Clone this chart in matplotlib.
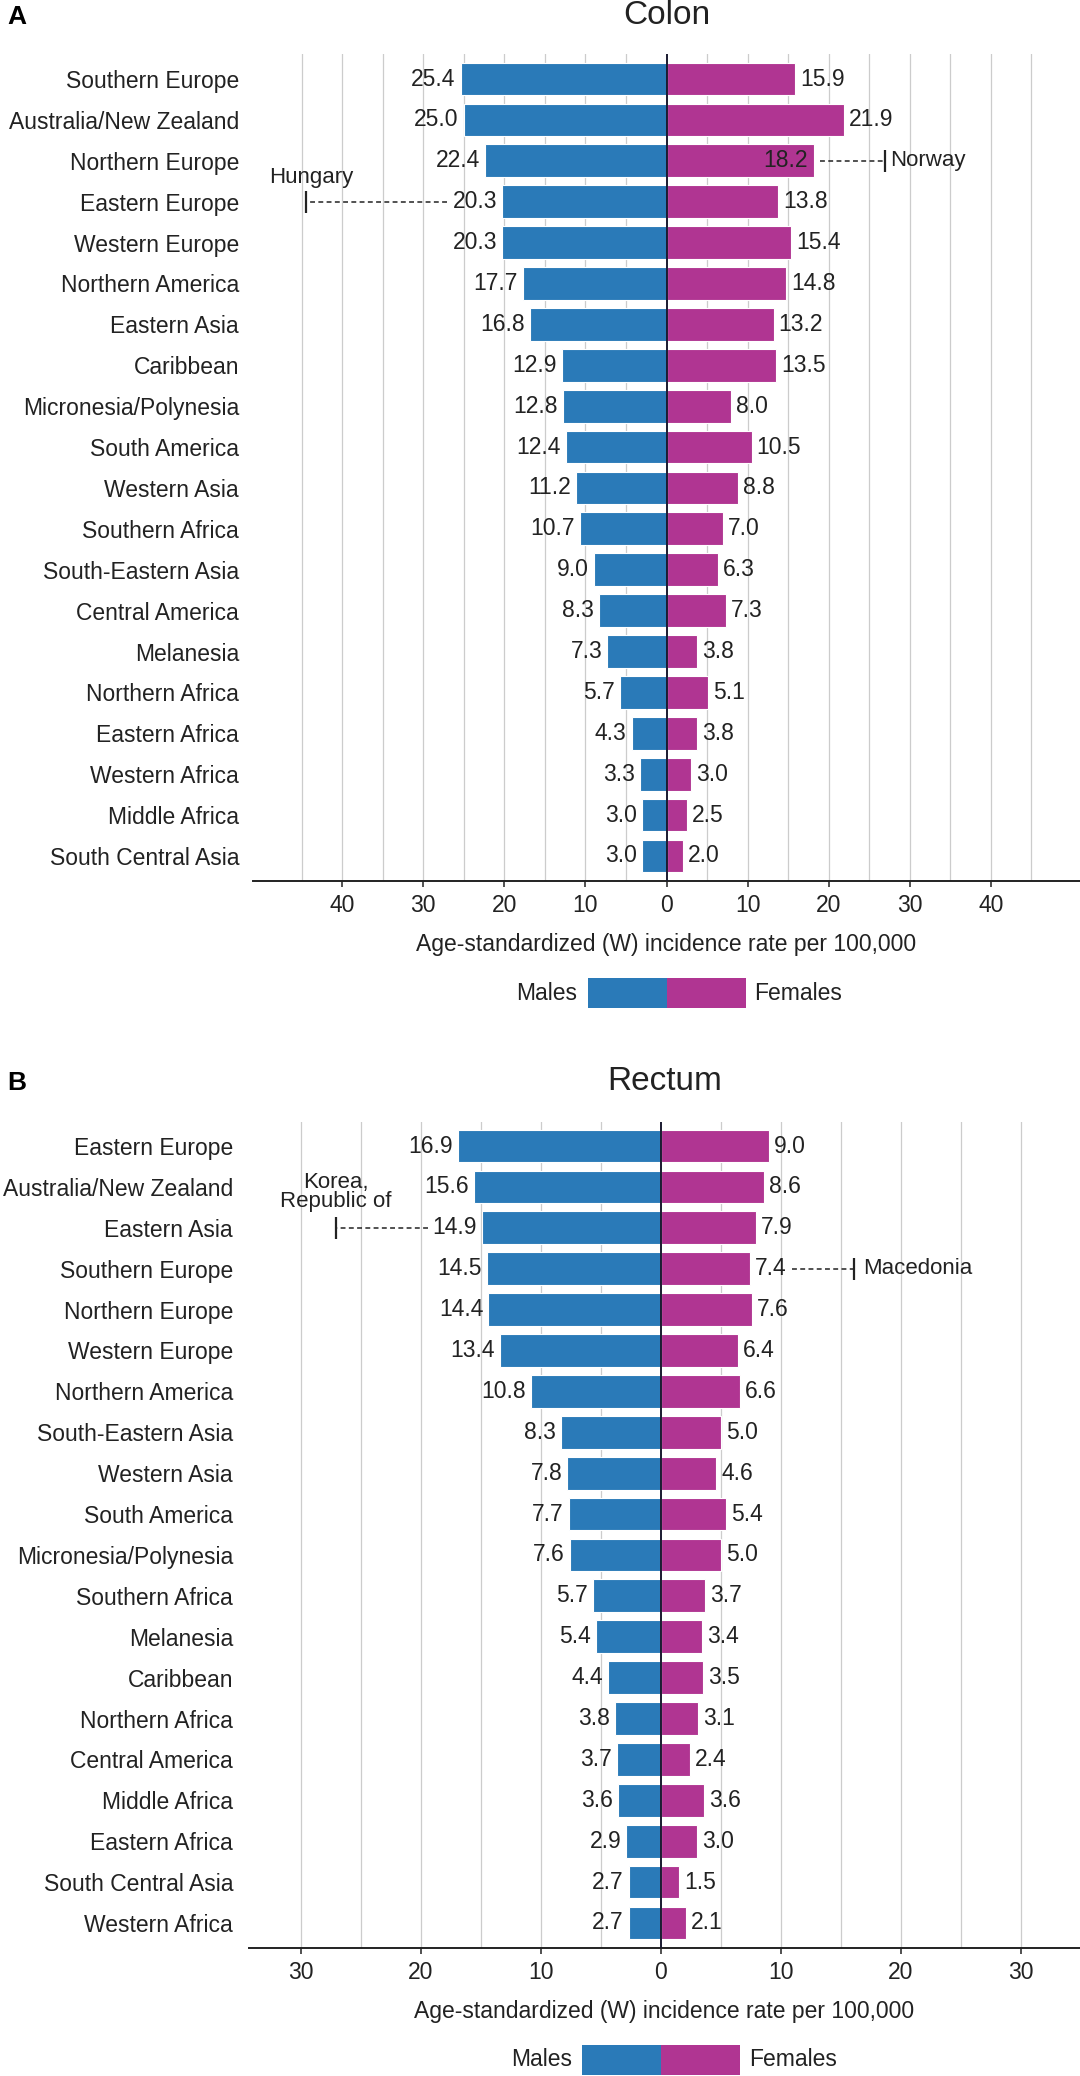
import matplotlib
matplotlib.use("Agg")
import matplotlib.pyplot as plt
from matplotlib.patches import Rectangle
import numpy as np

plt.rcParams['font.family'] = ['Liberation Sans', 'DejaVu Sans']

# ---------------- data ----------------
colon_regions = ["Southern Europe", "Australia/New Zealand", "Northern Europe", "Eastern Europe",
                 "Western Europe", "Northern America", "Eastern Asia", "Caribbean",
                 "Micronesia/Polynesia", "South America", "Western Asia", "Southern Africa",
                 "South-Eastern Asia", "Central America", "Melanesia", "Northern Africa",
                 "Eastern Africa", "Western Africa", "Middle Africa", "South Central Asia"]
colon_males = [25.4, 25.0, 22.4, 20.3, 20.3, 17.7, 16.8, 12.9, 12.8, 12.4,
               11.2, 10.7, 9.0, 8.3, 7.3, 5.7, 4.3, 3.3, 3.0, 3.0]
colon_females = [15.9, 21.9, 18.2, 13.8, 15.4, 14.8, 13.2, 13.5, 8.0, 10.5,
                 8.8, 7.0, 6.3, 7.3, 3.8, 5.1, 3.8, 3.0, 2.5, 2.0]

rectum_regions = ["Eastern Europe", "Australia/New Zealand", "Eastern Asia", "Southern Europe",
                  "Northern Europe", "Western Europe", "Northern America", "South-Eastern Asia",
                  "Western Asia", "South America", "Micronesia/Polynesia", "Southern Africa",
                  "Melanesia", "Caribbean", "Northern Africa", "Central America",
                  "Middle Africa", "Eastern Africa", "South Central Asia", "Western Africa"]
rectum_males = [16.9, 15.6, 14.9, 14.5, 14.4, 13.4, 10.8, 8.3, 7.8, 7.7,
                7.6, 5.7, 5.4, 4.4, 3.8, 3.7, 3.6, 2.9, 2.7, 2.7]
rectum_females = [9.0, 8.6, 7.9, 7.4, 7.6, 6.4, 6.6, 5.0, 4.6, 5.4,
                  5.0, 3.7, 3.4, 3.5, 3.1, 2.4, 3.6, 3.0, 1.5, 2.1]

colon_ticks = [-40, -30, -20, -10, 0, 10, 20, 30, 40]
rectum_ticks = [-30, -20, -10, 0, 10, 20, 30]

# highest country rate within a region: (region, sex, country, value)
colon_highest = [("Eastern Europe", "males", "Hungary", 44.5),
                 ("Northern Europe", "females", "Norway", 26.9)]
rectum_highest = [("Eastern Asia", "males", "Korea,\nRepublic of", 27.1),
                  ("Southern Europe", "females", "Macedonia", 16.1)]

xlabel_text = "Age-standardized (W) incidence rate per 100,000"

# ---------------- style ----------------
BLUE = "#2a7ab8"
MAGENTA = "#b03592"
TEXT = "#222222"
GRID = "#cccccc"
FS = 16.5

W, H = 1080, 2076
fig = plt.figure(figsize=(W / 100, H / 100), dpi=100)
fig.patch.set_facecolor("white")


def px_axes(l, t, r, b):
    return fig.add_axes([l / W, 1 - b / H, (r - l) / W, (b - t) / H])


def draw_panel(ax, regions, males, females, xlim, grid_max, ticks, ylabel_pad, inside_fem):
    n = len(regions)
    y = np.arange(n)
    ax.set_xlim(*xlim)
    ax.set_ylim(n - 1 + 0.6, -0.6)
    ax.barh(y, -np.array(males), height=0.8, color=BLUE, edgecolor="white",
            linewidth=0.8, zorder=3)
    ax.barh(y, np.array(females), height=0.8, color=MAGENTA, edgecolor="white",
            linewidth=0.8, zorder=3)
    for g in np.arange(-grid_max, grid_max + 1, 5):
        if g != 0:
            ax.axvline(g, color=GRID, lw=0.9, zorder=1)
    ax.axvline(0, color="#1a1a30", lw=1.4, zorder=4)

    for s in ["top", "left", "right"]:
        ax.spines[s].set_visible(False)
    ax.spines["bottom"].set_linewidth(1.4)
    ax.spines["bottom"].set_color("#222222")

    ax.set_xticks(ticks)
    ax.set_xticklabels([str(abs(t)) for t in ticks], fontsize=FS, color=TEXT)
    ax.tick_params(axis="x", length=4.5, width=1.1, pad=5, colors="#222222")
    ax.set_yticks(y)
    ax.set_yticklabels(regions, fontsize=FS, color=TEXT)
    ax.tick_params(axis="y", length=0, pad=ylabel_pad)

    ax.set_xlabel(xlabel_text, fontsize=FS, color=TEXT)
    ax.xaxis.set_label_coords(0.5, -0.078)
    ax.xaxis.label.set_va("center")

    labels_m, labels_f = [], []
    for i in range(n):
        tm = ax.annotate(f"{males[i]:.1f}", xy=(-males[i], i), xytext=(-5, 0),
                         textcoords="offset pixels", ha="right", va="center",
                         fontsize=FS, color=TEXT, zorder=6)
        if regions[i] in inside_fem:
            tf = ax.annotate(f"{females[i]:.1f}", xy=(females[i], i), xytext=(-6, 0),
                             textcoords="offset pixels", ha="right", va="center",
                             fontsize=FS, color=TEXT, zorder=6)
        else:
            tf = ax.annotate(f"{females[i]:.1f}", xy=(females[i], i), xytext=(5, 0),
                             textcoords="offset pixels", ha="left", va="center",
                             fontsize=FS, color=TEXT, zorder=6)
        labels_m.append(tm)
        labels_f.append(tf)
    return labels_m, labels_f


def add_highest(ax, regions, males, females, labels_m, labels_f, highest, placement):
    renderer = fig.canvas.get_renderer()
    for region, sex, country, value in highest:
        i = regions.index(region)
        if sex == "males":
            txt, bar_end, tick_x = labels_m[i], -males[i], -value
        else:
            txt, bar_end, tick_x = labels_f[i], females[i], value
        bb = txt.get_window_extent(renderer)
        bar_px = ax.transData.transform((bar_end, i))[0]
        if sex == "females":
            start_px = max(bb.x1, bar_px) + 6
        else:
            start_px = min(bb.x0, bar_px) - 5
        start_x = ax.transData.inverted().transform((start_px, 0))[0]
        ax.plot([start_x, tick_x], [i, i], ls=(0, (3.2, 2.2)), color=TEXT, lw=1.1,
                zorder=5, clip_on=False)
        ax.plot([tick_x], [i], marker="|", ms=16, mew=1.6, color=TEXT, zorder=5,
                clip_on=False)
        dx, dy, ha, va = placement[country]
        ax.annotate(country, xy=(tick_x, i), xytext=(dx, dy), textcoords="offset pixels",
                    ha=ha, va=va, fontsize=FS - 0.5, color=TEXT, linespacing=0.85,
                    zorder=6)


def add_legend(ax, y_top):
    x0 = ax.transData.transform((0, 0))[0]
    inv = fig.transFigure.inverted()
    w, h = 79, 30
    yb = H - y_top - h
    for xs, col in [(x0 - w, BLUE), (x0, MAGENTA)]:
        (fx, fy) = inv.transform((xs, yb))
        (fx2, fy2) = inv.transform((xs + w, yb + h))
        fig.add_artist(Rectangle((fx, fy), fx2 - fx, fy2 - fy, transform=fig.transFigure,
                                 facecolor=col, edgecolor="none", lw=0))
    yc = (H - y_top - h / 2) / H
    fig.text((x0 - w - 10) / W, yc, "Males", ha="right", va="center", fontsize=FS, color=TEXT)
    fig.text((x0 + w + 9) / W, yc, "Females", ha="left", va="center", fontsize=FS, color=TEXT)


# ---------------- panel A ----------------
axA = px_axes(253, 54.5, 1080, 880.5)
lmA, lfA = draw_panel(axA, colon_regions, colon_males, colon_females, (-51, 51), 45,
                      colon_ticks, 10, inside_fem=["Northern Europe"])
# ---------------- panel B ----------------
axB = px_axes(249, 1121.5, 1080, 1947.5)
lmB, lfB = draw_panel(axB, rectum_regions, rectum_males, rectum_females, (-34.33, 34.92), 30,
                      rectum_ticks, 11.5, inside_fem=[])

fig.text(axA.get_position().x0 + axA.get_position().width / 2, 1 - 15 / H, "Colon",
         ha="center", va="center", fontsize=24, color=TEXT)
fig.text(axB.get_position().x0 + axB.get_position().width / 2, 1 - 1081 / H, "Rectum",
         ha="center", va="center", fontsize=24, color=TEXT)
fig.text(7 / W, 1 - 17 / H, "A", ha="left", va="center", fontsize=19, fontweight="bold",
         color="black")
fig.text(7 / W, 1 - 1082.5 / H, "B", ha="left", va="center", fontsize=19, fontweight="bold",
         color="black")

fig.canvas.draw()

placement = {
    "Hungary": (6, 19, "center", "baseline"),
    "Norway": (6, 0, "left", "center"),
    "Korea,\nRepublic of": (0, 16, "center", "bottom"),
    "Macedonia": (9, 0, "left", "center"),
}
add_highest(axA, colon_regions, colon_males, colon_females, lmA, lfA, colon_highest, placement)
add_highest(axB, rectum_regions, rectum_males, rectum_females, lmB, lfB, rectum_highest, placement)

add_legend(axA, 978)
add_legend(axB, 2045)

fig.savefig("out.png", dpi=100, facecolor="white")
